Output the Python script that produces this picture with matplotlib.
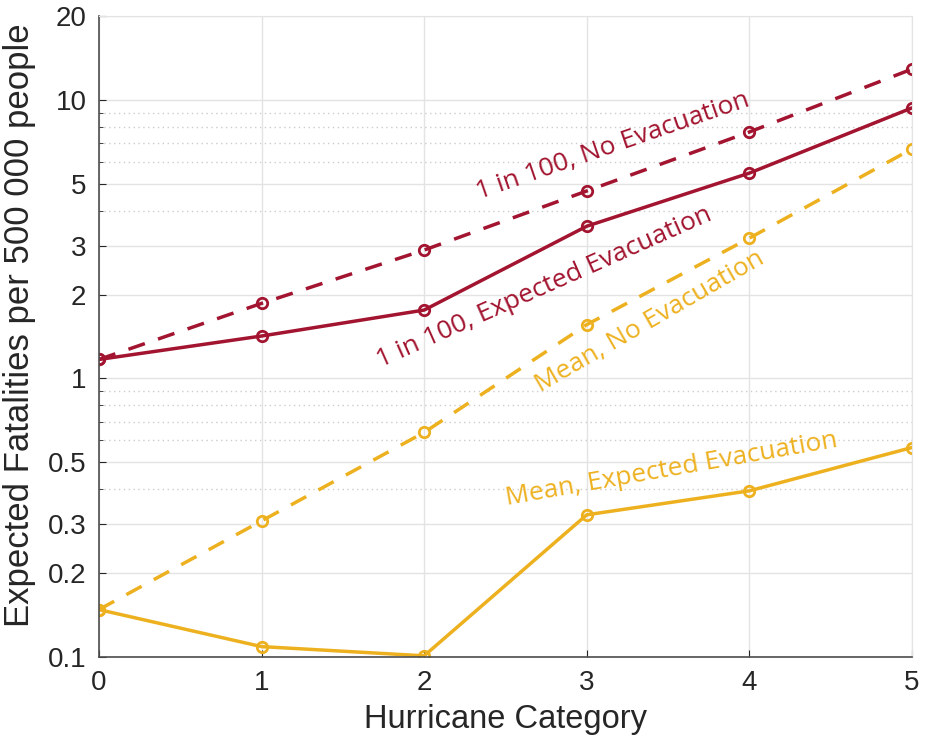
import matplotlib
matplotlib.use('Agg')
import numpy as np
import matplotlib.pyplot as plt
from matplotlib.ticker import FixedLocator, NullFormatter

category = [0, 1, 2, 3, 4, 5]
red_no_evac = [1.17, 1.86, 2.89, 4.71, 7.67, 12.9]
red_exp_evac = [1.17, 1.42, 1.76, 3.52, 5.46, 9.36]
mean_no_evac = [0.148, 0.308, 0.64, 1.56, 3.19, 6.67]
mean_exp_evac = [0.148, 0.109, 0.101, 0.324, 0.395, 0.565]

yticks = [0.1, 0.2, 0.3, 0.5, 1, 2, 3, 5, 10, 20]
ytick_labels = ['0.1', '0.2', '0.3', '0.5', '1', '2', '3', '5', '10', '20']
yminor = [0.4, 0.6, 0.7, 0.8, 0.9, 4, 6, 7, 8, 9]

red = '#A2142F'
gold = '#EDB120'

plt.rcParams['font.family'] = ['Liberation Sans', 'DejaVu Sans']

fig = plt.figure(figsize=(9.33, 7.49), dpi=100)
ax = fig.add_axes([0.106, 0.1228, 0.8715, 0.8558])

ax.set_yscale('log')
ax.set_xlim(0, 5)
ax.set_ylim(0.1, 20)

mk = dict(marker='o', markersize=7.5, markerfacecolor='none', markeredgewidth=2, linewidth=2.5)
ax.plot(category, red_no_evac, '--', color=red, dashes=(5, 4), **mk)
ax.plot(category, red_exp_evac, '-', color=red, **mk)
ax.plot(category, mean_no_evac, '--', color=gold, dashes=(5, 4), **mk)
ax.plot(category, mean_exp_evac, '-', color=gold, **mk)

ax.yaxis.set_major_locator(FixedLocator(yticks))
ax.set_yticklabels(ytick_labels)
ax.yaxis.set_minor_locator(FixedLocator(yminor))
ax.yaxis.set_minor_formatter(NullFormatter())
ax.set_xticks(category)

ax.grid(True, which='major', color='#e3e3e3', linewidth=1)
ax.grid(True, which='minor', axis='y', color='#cccccc', linestyle=(0, (1, 2.5)), linewidth=1)
ax.tick_params(which='both', direction='in', labelsize=20, colors='#262626', length=5)
ax.tick_params(which='minor', length=3)
ax.tick_params(axis='x', pad=9)
ax.tick_params(axis='y', pad=9)
for s in ['top', 'right']:
    ax.spines[s].set_color('#e3e3e3')
for s in ['left', 'bottom']:
    ax.spines[s].set_color('#4d4d4d')
    ax.spines[s].set_linewidth(1.2)

ax.set_xlabel('Hurricane Category', fontsize=23.5, color='#262626', labelpad=6)
ax.set_ylabel('Expected Fatalities per 500 000 people', fontsize=25, color='#262626')
ax.yaxis.set_label_coords(-0.077, 0.518)

lab = dict(family=['Open Sans', 'DejaVu Sans'], fontsize=19, ha='center', va='center',
           rotation_mode='anchor')
ax.text(3.16, 6.8, '1 in 100, No Evacuation', color=red, rotation=19, **lab)
ax.text(2.74, 2.12, '1 in 100, Expected Evacuation', color=red, rotation=24, **lab)
ax.text(3.39, 1.6, 'Mean, No Evacuation', color=gold, rotation=30, **lab)
ax.text(3.52, 0.47, 'Mean, Expected Evacuation', color=gold, rotation=10, **lab)

fig.savefig('out.png', dpi=100)
